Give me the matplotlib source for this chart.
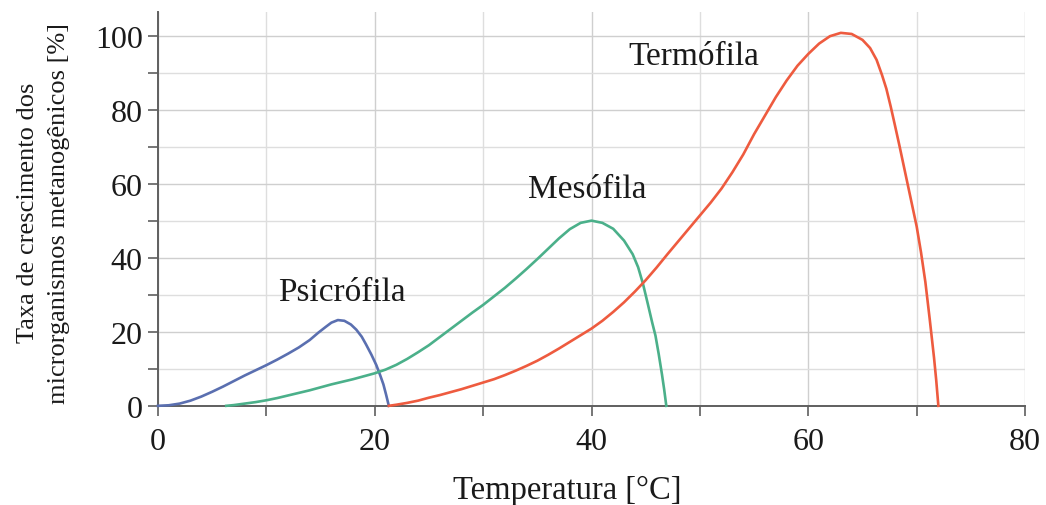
import numpy as np
import matplotlib
matplotlib.use('Agg')
import matplotlib.pyplot as plt
from matplotlib.ticker import MultipleLocator

# Curves (temperature in C, growth rate in %)
psicro_x = [0, 1, 2, 3, 4, 5, 6, 7, 8, 9, 10, 11, 12, 13, 14, 14.8, 15.5, 16.0, 16.6,
            17.2, 17.8, 18.3, 18.8, 19.2, 19.7, 20.15, 20.5, 20.8, 21.05, 21.2, 21.3]
psicro_y = [0, 0.15, 0.6, 1.4, 2.5, 3.8, 5.2, 6.7, 8.2, 9.6, 11.0, 12.5, 14.1, 15.8, 17.8, 19.8, 21.4, 22.5, 23.2,
            23.0, 22.0, 20.6, 18.7, 16.6, 13.8, 11.0, 8.3, 5.8, 3.0, 1.2, 0]

meso_x = [6.3, 7, 8, 9, 10, 11, 12, 13, 14, 15, 16, 17, 18, 19, 20, 21, 22, 23, 24, 25, 26, 27, 28,
          29, 30, 31, 32, 33, 34, 35, 36, 37, 38, 39, 40, 41, 42, 43, 43.8, 44.3, 44.75, 45.2, 45.6,
          45.9, 46.2, 46.5, 46.7, 46.9]
meso_y = [0, 0.2, 0.6, 1.0, 1.5, 2.1, 2.8, 3.5, 4.2, 5.0, 5.8, 6.5, 7.2, 8.0, 8.8, 9.8, 11.1, 12.7, 14.5,
          16.4, 18.6, 20.8, 23.0, 25.2, 27.3, 29.6, 31.9, 34.4, 37.0, 39.7, 42.5, 45.3, 47.8, 49.5, 50.1,
          49.5, 47.9, 44.7, 41.0, 37.5, 33.0, 27.5, 22.5, 19.0, 14.0, 8.5, 4.5, 0]

termo_x = [21.3, 22, 23, 24, 25, 26, 27, 28, 29, 30, 31, 32, 33, 34, 35, 36, 37, 38, 39, 40, 41, 42,
           43, 44, 45, 46, 47, 48, 49, 50, 51, 52, 53, 54, 55, 56, 57, 58, 59, 60, 61, 62, 63, 64, 65,
           65.7, 66.3, 66.8, 67.2, 67.6, 68.0, 68.4, 68.8, 69.2, 69.6, 70.0, 70.4, 70.8, 71.2, 71.6,
           71.8, 72.0]
termo_y = [0, 0.3, 0.8, 1.4, 2.2, 2.9, 3.7, 4.5, 5.4, 6.3, 7.2, 8.3, 9.5, 10.8, 12.2, 13.8, 15.5, 17.3,
           19.1, 20.9, 23.0, 25.4, 28.0, 30.9, 34.0, 37.4, 41.0, 44.5, 48.0, 51.5, 55.0, 58.8, 63.2, 68.0,
           73.5, 78.5, 83.5, 88.0, 92.0, 95.2, 98.0, 100.0, 100.9, 100.6, 99.0, 96.8, 93.6, 89.5, 85.8,
           81.0, 75.8, 70.5, 65.0, 59.5, 54.0, 48.5, 41.5, 33.5, 23.5, 13.0, 7.0, 0]

labels = ['Psicrófila', 'Mesófila', 'Termófila']
label_x = [17.0, 39.6, 49.45]
label_y = [28.7, 56.5, 92.5]
colors = ['#5a6fb0', '#4bb08a', '#ee5b3f']

plt.rcParams['font.family'] = ['Liberation Serif', 'DejaVu Serif']

fig = plt.figure(figsize=(10.46, 5.06), dpi=100)
ax = fig.add_axes([0.151, 0.196, 0.829, 0.778])

for xs, ys, c in zip([psicro_x, meso_x, termo_x], [psicro_y, meso_y, termo_y], colors):
    ax.plot(xs, ys, color=c, lw=1.9, solid_joinstyle='round', zorder=3, clip_on=False)

for lab, lx, ly in zip(labels, label_x, label_y):
    ax.text(lx, ly, lab, fontsize=24, ha='center', va='baseline', color='#1a1a1a')

ax.set_xlim(0, 80)
ax.set_ylim(0, 106.5)
ax.xaxis.set_major_locator(MultipleLocator(20))
ax.xaxis.set_minor_locator(MultipleLocator(10))
ax.yaxis.set_major_locator(MultipleLocator(20))
ax.yaxis.set_minor_locator(MultipleLocator(10))
ax.grid(True, which='major', color='#cfcfcf', lw=1.0, zorder=0)
ax.grid(True, which='minor', color='#dedede', lw=1.0, zorder=0)
ax.set_axisbelow(True)

for s in ['top', 'right']:
    ax.spines[s].set_visible(False)
for s in ['left', 'bottom']:
    ax.spines[s].set_color('#5f5f5f')
    ax.spines[s].set_linewidth(1.4)

ax.tick_params(which='both', direction='out', length=7, width=1.2, color='#5f5f5f',
               labelsize=23, labelcolor='#1a1a1a')
ax.tick_params(axis='x', pad=8)
ax.tick_params(axis='y', pad=4)

ax.set_xlabel('Temperatura [°C]', fontsize=23.5, color='#1a1a1a')
ax.xaxis.label.set_verticalalignment('baseline')
ax.xaxis.set_label_coords(0.472, -0.234)
ax.set_ylabel('Taxa de crescimento dos\nmicrorganismos metanogênicos [%]', fontsize=19,
              color='#1a1a1a', linespacing=1.55)
ax.yaxis.set_label_coords(-0.1015, 0.492)

fig.savefig('out.png', dpi=100)
